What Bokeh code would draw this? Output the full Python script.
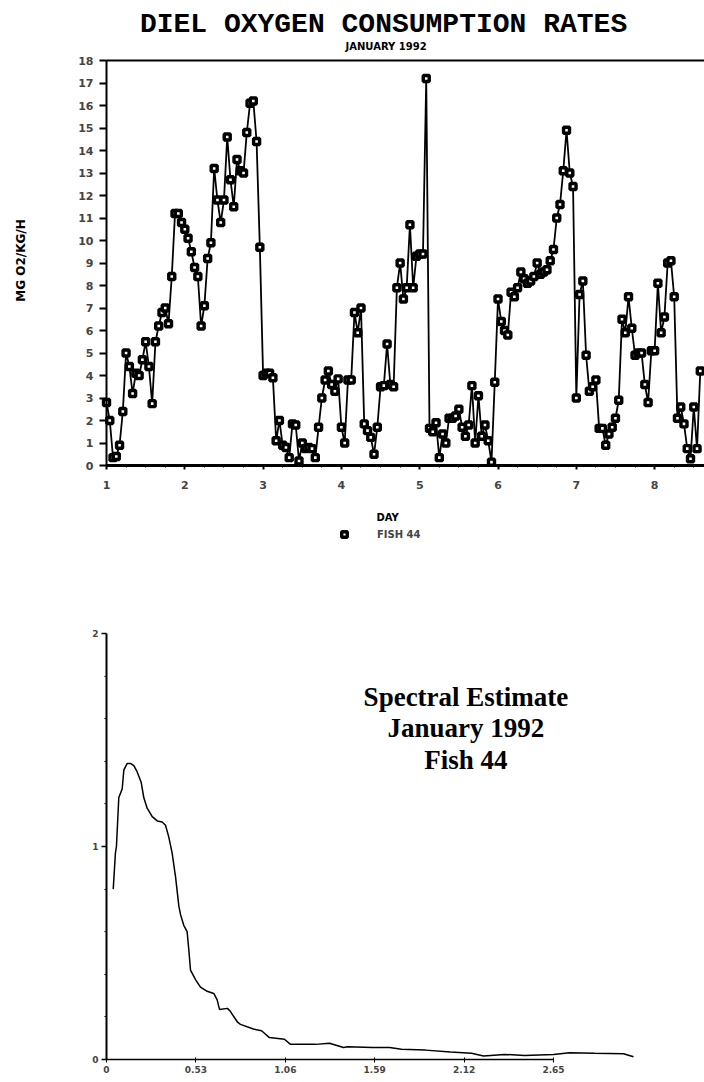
import math
from bokeh.plotting import figure
from bokeh.models import Range1d, LinearAxis, FixedTicker, Label, Legend, LegendItem
from bokeh.layouts import column
from bokeh.embed import file_html
from bokeh.resources import INLINE

# ---------------- data: diel oxygen consumption, Fish 44 (hourly readings) ----------------
start_day = 1.0
o2_rate = [
    2.8, 2.0, 0.35, 0.4, 0.9, 2.4, 5.0, 4.4, 3.2, 4.1,
    4.0, 4.7, 5.5, 4.4, 2.75, 5.5, 6.2, 6.8, 7.0, 6.3,
    8.4, 11.2, 11.2, 10.8, 10.5, 10.1, 9.5, 8.8, 8.4, 6.2,
    7.1, 9.2, 9.9, 13.2, 11.8, 10.8, 11.8, 14.6, 12.7, 11.5,
    13.6, 13.1, 13.0, 14.8, 16.1, 16.2, 14.4, 9.7,
    4.0, 4.1, 4.1, 3.9, 1.1, 2.0, 0.9, 0.8, 0.35, 1.85,
    1.8, 0.2, 1.0, 0.75, 0.8, 0.75, 0.35, 1.7, 3.0, 3.8,
    4.2, 3.6, 3.3, 3.85, 1.7, 1.0, 3.8, 3.8, 6.8, 5.9,
    7.0, 1.85, 1.55, 1.25, 0.5, 1.7, 3.5, 3.55, 5.4, 3.6, 3.5,
    7.9, 9.0, 7.4, 7.9, 10.7, 7.9, 9.3, 9.4, 9.4, 17.2,
    1.65, 1.5, 1.9, 0.35, 1.4, 1.0, 2.1, 2.1, 2.2, 2.5,
    1.7, 1.3, 1.8, 3.55, 1.0, 3.1, 1.3, 1.8, 1.1, 0.15, 3.7, 7.4,
    6.4, 6.0, 5.8, 7.7, 7.5, 7.9, 8.6, 8.3, 8.1, 8.2,
    8.4, 9.0, 8.5, 8.6, 8.7, 9.1, 9.6, 11.0, 11.6, 13.1, 14.9,
    13.0, 12.4, 3.0, 7.6, 8.2, 4.9, 3.3, 3.5, 3.8, 1.65,
    1.65, 0.9, 1.4, 1.7, 2.1, 2.9, 6.5, 5.9, 7.5, 6.1,
    4.9, 5.0, 5.0, 3.6, 2.8, 5.1, 5.1, 8.1, 5.9, 6.6,
    9.0, 9.1, 7.5, 2.1, 2.6, 1.85, 0.75, 0.3, 2.6, 0.75, 4.2,
]
day = [start_day + h / 24.0 for h in range(len(o2_rate))]
day_ticks = [1, 2, 3, 4, 5, 6, 7, 8]
rate_ticks = list(range(0, 19))

# ---------------- data: spectral estimate ----------------
frequency = [
    0.040, 0.053, 0.059, 0.073, 0.093, 0.103, 0.123, 0.142, 0.162, 0.182,
    0.206, 0.221, 0.241, 0.271, 0.301, 0.330, 0.350, 0.369, 0.389, 0.409,
    0.429, 0.439, 0.458, 0.478, 0.488, 0.498, 0.528, 0.557, 0.597, 0.636,
    0.656, 0.670, 0.717, 0.735, 0.777, 0.794, 0.871, 0.919, 0.966, 1.055,
    1.091, 1.239, 1.322, 1.405, 1.429, 1.577, 1.678, 1.749, 1.891, 2.039,
    2.164, 2.235, 2.359, 2.478, 2.650, 2.745, 2.893, 3.065, 3.124,
]
spectral_density = [
    0.80, 0.97, 1.00, 1.23, 1.27, 1.36, 1.39, 1.39, 1.38, 1.35,
    1.30, 1.23, 1.18, 1.14, 1.12, 1.115, 1.10, 1.045, 0.97, 0.86,
    0.72, 0.68, 0.63, 0.60, 0.515, 0.42, 0.375, 0.34, 0.32, 0.31,
    0.28, 0.235, 0.24, 0.225, 0.175, 0.165, 0.143, 0.135, 0.103, 0.095,
    0.071, 0.071, 0.076, 0.056, 0.060, 0.056, 0.056, 0.048, 0.044, 0.035,
    0.029, 0.016, 0.024, 0.019, 0.024, 0.032, 0.029, 0.027, 0.013,
]
freq_ticks = [0, 0.53, 1.06, 1.59, 2.12, 2.65]
freq_tick_labels = ["0", "0.53", "1.06", "1.59", "2.12", "2.65"]
density_ticks = [0, 1, 2]

TICK_FONT = "DejaVu Sans"


def bare_figure(xr, yr, w, h):
    p = figure(x_range=xr, y_range=yr, frame_width=w, frame_height=h,
               min_border=0, min_border_left=0, min_border_right=0,
               min_border_top=0, min_border_bottom=0,
               output_backend="svg", toolbar_location=None)
    p.grid.visible = False
    p.outline_line_color = None
    p.title.visible = False
    return p


# ---------------- top chart (frame spans whole canvas) ----------------
p1 = bare_figure(Range1d(-0.3538, 8.637), Range1d(-4.222, 20.667), 704, 560)

ya = p1.yaxis[0]
ya.fixed_location = 1
ya.bounds = (0, 18)
ya.ticker = FixedTicker(ticks=rate_ticks)
ya.axis_line_width = 2
ya.major_tick_out = 7
ya.major_tick_in = 0
ya.major_tick_line_width = 2
ya.minor_tick_out = 0
ya.major_label_standoff = 6
ya.major_label_text_font = TICK_FONT
ya.major_label_text_font_style = "bold"
ya.major_label_text_font_size = "11px"

xa = p1.xaxis[0]
xa.fixed_location = 0
xa.bounds = (1, 8.637)
xa.ticker = FixedTicker(ticks=day_ticks, minor_ticks=[d + q / 4 for d in range(1, 9) for q in range(1, 4)])
xa.axis_line_width = 3
xa.major_tick_out = 4
xa.major_tick_in = 0
xa.major_tick_line_width = 2
xa.minor_tick_out = 2
xa.minor_tick_in = 0
xa.major_label_standoff = 11
xa.major_label_text_font = TICK_FONT
xa.major_label_text_font_style = "bold"
xa.major_label_text_font_size = "11px"

top_axis = LinearAxis(ticker=FixedTicker(ticks=[]), axis_line_width=2, fixed_location=18,
                      bounds=(1, 8.637), major_tick_out=0, minor_tick_out=0,
                      major_label_text_font_size="0px")
p1.add_layout(top_axis, "above")

p1.line(day, o2_rate, line_color="black", line_width=1.8)
pts = p1.scatter(day, o2_rate, marker="square", size=6, line_width=3.4,
                 line_color="black", fill_color="white")

p1.add_layout(Label(x=4.538, y=19.6, text="DIEL OXYGEN CONSUMPTION RATES",
                    text_align="center", text_baseline="middle",
                    text_font="Liberation Mono", text_font_style="bold",
                    text_font_size="28px", text_color="black"))
p1.add_layout(Label(x=4.57, y=18.62, text="JANUARY 1992",
                    text_align="center", text_baseline="middle",
                    text_font=TICK_FONT, text_font_style="bold",
                    text_font_size="10px", text_color="black"))
p1.add_layout(Label(x=-0.098, y=9.11, text="MG O2/KG/H", angle=math.pi / 2,
                    text_align="center", text_baseline="middle",
                    text_font=TICK_FONT, text_font_style="bold",
                    text_font_size="12px", text_color="black"))
p1.add_layout(Label(x=4.59, y=-2.31, text="DAY",
                    text_align="center", text_baseline="middle",
                    text_font=TICK_FONT, text_font_style="bold",
                    text_font_size="10px", text_color="black"))

legend = Legend(items=[LegendItem(label="FISH 44", renderers=[pts])],
                location=(337, 19), orientation="horizontal",
                padding=0, margin=0, spacing=0,
                border_line_color=None, background_fill_alpha=0,
                glyph_width=14, glyph_height=14, label_standoff=26,
                label_text_font=TICK_FONT, label_text_font_style="bold",
                label_text_font_size="10px")
p1.add_layout(legend)

# ---------------- bottom chart (frame spans whole canvas) ----------------
p2 = bare_figure(Range1d(-0.6283, 3.545), Range1d(-0.108, 2.3427), 704, 522)

ya2 = p2.yaxis[0]
ya2.fixed_location = 0
ya2.bounds = (0, 2)
ya2.ticker = FixedTicker(ticks=density_ticks, minor_ticks=[0.2, 0.4, 0.6, 0.8, 1.2, 1.4, 1.6, 1.8])
ya2.axis_line_width = 2
ya2.major_tick_out = 5
ya2.major_tick_in = 0
ya2.major_tick_line_width = 1.5
ya2.minor_tick_out = 2
ya2.minor_tick_in = 0
ya2.major_label_standoff = 3
ya2.major_label_text_font = TICK_FONT
ya2.major_label_text_font_style = "bold"
ya2.major_label_text_font_size = "9px"

xa2 = p2.xaxis[0]
xa2.fixed_location = 0
xa2.bounds = (0, 2.65)
xa2.ticker = FixedTicker(ticks=freq_ticks)
xa2.major_label_overrides = dict(zip(freq_ticks, freq_tick_labels))
xa2.axis_line_width = 1.5
xa2.major_tick_out = 3
xa2.major_tick_in = 2
xa2.minor_tick_out = 0
xa2.major_label_standoff = 4
xa2.major_label_text_font = TICK_FONT
xa2.major_label_text_font_style = "bold"
xa2.major_label_text_font_size = "9px"

p2.line(frequency, spectral_density, line_color="black", line_width=1.5)

for txt, yv in [("Spectral Estimate", 1.704), ("January 1992", 1.554), ("Fish 44", 1.404)]:
    p2.add_layout(Label(x=2.131, y=yv, text=txt, text_align="center", text_baseline="middle",
                        text_font="Liberation Serif", text_font_style="bold",
                        text_font_size="27px", text_color="black"))

layout = column(p1, p2, spacing=0)
open("out.html", "w").write(file_html(layout, INLINE))
